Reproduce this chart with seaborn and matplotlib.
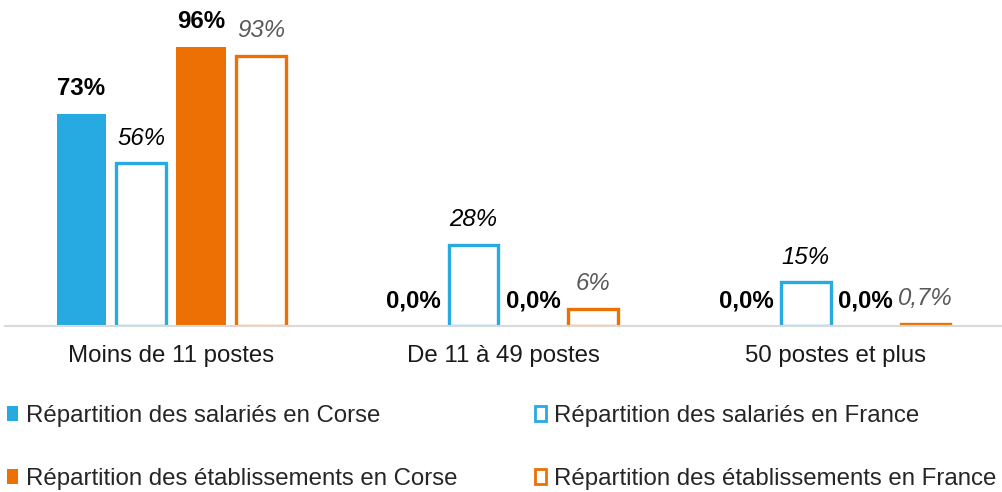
import pandas as pd
import matplotlib
matplotlib.use("Agg")
import matplotlib.pyplot as plt
import seaborn as sns
from matplotlib.patches import Patch

# data
categories = ["Moins de 11 postes", "De 11 à 49 postes", "50 postes et plus"]
series = ["Répartition des salariés en Corse",
          "Répartition des salariés en France",
          "Répartition des établissements en Corse",
          "Répartition des établissements en France"]
sal_corse = [73, 0.0, 0.0]
sal_france = [56, 28, 15]
etab_corse = [96, 0.0, 0.0]
etab_france = [93, 6, 0.7]
labels = [["73%", "0,0%", "0,0%"],
          ["56%", "28%", "15%"],
          ["96%", "0,0%", "0,0%"],
          ["93%", "6%", "0,7%"]]

blue = "#27AAE1"
orange = "#EC7004"

rows = []
for s, vals in zip(series, [sal_corse, sal_france, etab_corse, etab_france]):
    for c, v in zip(categories, vals):
        rows.append({"cat": c, "serie": s, "val": v})
df = pd.DataFrame(rows)

sns.set_style("white")
plt.rcParams["font.family"] = ["Liberation Sans", "DejaVu Sans"]

fig = plt.figure(figsize=(10.02, 4.92), dpi=100)
ax = fig.add_axes([5 / 1002, 166 / 492, 997 / 1002, 316 / 492])

sns.barplot(data=df, x="cat", y="val", hue="serie", hue_order=series,
            palette=[blue, blue, orange, orange], width=0.72, gap=0.17,
            legend=False, ax=ax, errorbar=None)

styles = [
    dict(face=blue, edge=blue, lw=0, weight="bold", style="normal", color="black"),
    dict(face="white", edge=blue, lw=2.4, weight="normal", style="italic", color="black"),
    dict(face=orange, edge=orange, lw=0, weight="bold", style="normal", color="black"),
    dict(face="white", edge=orange, lw=2.4, weight="normal", style="italic", color="#595959"),
]

for i, cont in enumerate(ax.containers):
    st = styles[i]
    for j, bar in enumerate(cont):
        bar.set_facecolor(st["face"])
        bar.set_edgecolor(st["edge"])
        bar.set_linewidth(st["lw"])
        x = bar.get_x() + bar.get_width() / 2
        ax.annotate(labels[i][j], (x, bar.get_height()), xytext=(0, 25),
                    textcoords="offset pixels", ha="center", va="center",
                    fontsize=17.3, fontweight=st["weight"], fontstyle=st["style"],
                    color=st["color"], annotation_clip=False)

ax.set_xlim(-0.5, 2.5)
ax.set_ylim(0, 108.7)
ax.set_xlabel("")
ax.set_ylabel("")
ax.set_yticks([])
ax.tick_params(axis="x", length=0, pad=14, labelsize=17.3, labelcolor="#1a1a1a")
for side in ["top", "right", "left"]:
    ax.spines[side].set_visible(False)
ax.spines["bottom"].set_color("#D9D9D9")
ax.spines["bottom"].set_linewidth(1.5)
ax.spines["bottom"].set_zorder(5)

handles = [Patch(facecolor=st["face"], edgecolor=st["edge"], linewidth=2 if st["lw"] else 0)
           for st in styles]
# legend fills column by column, so reorder to get the rows right
order = [0, 2, 1, 3]
fig.legend([handles[k] for k in order], [series[k] for k in order],
           loc="upper left", bbox_to_anchor=(0.0, 0.192),
           ncol=2, frameon=False, fontsize=17.3, handlelength=0.45, handleheight=0.6,
           handletextpad=0.35, columnspacing=3.2, labelspacing=1.72,
           borderaxespad=0, borderpad=0.3)

fig.savefig("out.png", dpi=100)
